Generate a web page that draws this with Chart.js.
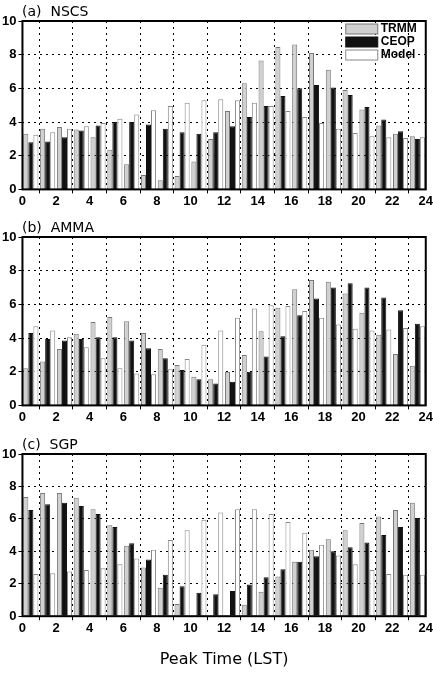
<!DOCTYPE html>
<html>
<head>
<meta charset="utf-8">
<script src="https://cdn.jsdelivr.net/npm/chart.js@4"></script>
<style>
body { margin: 0; background: #fff; }
.p { position: absolute; left: 0; width: 433px; }
</style>
</head>
<body>
<div class="p" style="top:0;height:209px"><canvas id="cA"></canvas></div>
<div class="p" style="top:216px;height:209px"><canvas id="cB"></canvas></div>
<div class="p" style="top:433px;height:240px"><canvas id="cC"></canvas></div>
<script>
const hours = Array.from({length: 24}, (_, i) => i + 0.5);

const nscsTrmm = [3.3,3.6,3.7,3.55,3.1,2.35,1.5,0.85,0.55,0.8,1.65,3.0,4.65,6.3,7.65,8.45,8.6,8.1,7.1,5.9,4.75,3.8,3.3,3.15];
const nscsCeop = [2.8,2.85,3.1,3.5,3.8,4.0,4.0,3.85,3.6,3.4,3.3,3.4,3.75,4.3,4.95,5.55,6.0,6.2,6.05,5.6,4.9,4.15,3.45,3.0];
const nscsModel = [3.25,3.4,3.6,3.75,3.95,4.2,4.45,4.7,4.95,5.15,5.3,5.35,5.3,5.15,4.95,4.65,4.3,3.95,3.6,3.35,3.15,3.1,3.05,3.1];

const ammaTrmm = [2.2,2.6,3.35,4.25,4.95,5.25,5.0,4.3,3.35,2.4,1.7,1.55,2.0,3.0,4.4,5.8,6.9,7.45,7.35,6.65,5.5,4.2,3.05,2.35];
const ammaCeop = [4.3,3.95,3.85,3.95,4.05,4.05,3.85,3.4,2.8,2.1,1.55,1.3,1.4,2.0,2.9,4.1,5.35,6.35,7.0,7.25,7.0,6.4,5.65,4.85];
const ammaModel = [4.7,4.45,4.05,3.45,2.8,2.2,1.9,1.85,2.15,2.75,3.6,4.45,5.2,5.75,5.95,5.9,5.6,5.2,4.8,4.55,4.45,4.5,4.6,4.7];

const sgpTrmm = [7.35,7.6,7.6,7.3,6.6,5.6,4.35,3.0,1.75,0.75,0.05,0,0.05,0.7,1.5,2.45,3.35,4.1,4.75,5.3,5.75,6.15,6.55,7.0];
const sgpCeop = [6.55,6.9,7.0,6.8,6.3,5.5,4.5,3.5,2.55,1.85,1.45,1.35,1.55,1.95,2.4,2.9,3.35,3.7,4.0,4.25,4.55,5.0,5.5,6.05];
const sgpModel = [2.6,2.65,2.75,2.85,2.95,3.2,3.55,4.1,4.7,5.3,5.95,6.4,6.6,6.6,6.3,5.8,5.15,4.4,3.75,3.2,2.85,2.6,2.55,2.55];

const seriesNames = ['TRMM', 'CEOP', 'Model'];
const seriesFill = ['#d0d0d0', '#111111', '#ffffff'];
const seriesEdge = ['#777777', '#111111', '#888888'];

const tickFont = {family: 'Liberation Sans', size: 13, weight: 'bold'};

function makePanel(id, title, vals, showLegend, showXTitle) {
    const panelDeco = {
        id: 'deco',
        afterDraw(chart) {
            const ctx = chart.ctx;
            const a = chart.chartArea;
            ctx.save();
            ctx.fillStyle = '#000';
            ctx.font = '14px "DejaVu Sans"';
            ctx.textBaseline = 'bottom';
            ctx.fillText(title, 22, a.top - 2);
            ctx.strokeStyle = '#000';
            ctx.lineWidth = 2;
            ctx.strokeRect(a.left, a.top, a.right - a.left, a.bottom - a.top);
            if (showLegend) {
                ctx.font = 'bold 12px "Liberation Sans"';
                ctx.textBaseline = 'middle';
                seriesNames.forEach((n, i) => {
                    const y = a.top + 8 + i * 13;
                    const x = a.right - 80;
                    ctx.fillStyle = seriesFill[i];
                    ctx.fillRect(x, y - 5, 32, 10);
                    ctx.strokeStyle = seriesEdge[i];
                    ctx.lineWidth = 1;
                    ctx.strokeRect(x, y - 5, 32, 10);
                    ctx.fillStyle = '#000';
                    ctx.fillText(n, x + 35, y);
                });
            }
            ctx.restore();
        }
    };
    new Chart(document.getElementById(id), {
        type: 'bar',
        data: {
            datasets: vals.map((v, i) => ({
                label: seriesNames[i],
                data: v.map((y, k) => ({x: hours[k], y: y})),
                backgroundColor: seriesFill[i],
                borderColor: seriesEdge[i],
                borderWidth: 1,
                barPercentage: 1,
                categoryPercentage: 0.9
            }))
        },
        options: {
            responsive: true,
            maintainAspectRatio: false,
            animation: false,
            layout: {padding: {top: 21, right: 6, left: 0}},
            plugins: {legend: {display: false}, tooltip: {enabled: false}},
            scales: {
                x: {
                    type: 'linear', min: 0, max: 24, offset: false,
                    ticks: {stepSize: 2, color: '#000', font: tickFont, padding: 0},
                    grid: {color: '#000', lineWidth: 1, tickLength: 4},
                    border: {display: false, dash: [2, 4]},
                    title: {display: showXTitle, text: 'Peak Time (LST)', color: '#000',
                        font: {family: 'DejaVu Sans', size: 16}, padding: {top: 14}}
                },
                y: {
                    min: 0, max: 10,
                    ticks: {stepSize: 2, color: '#000', font: tickFont, padding: 2},
                    grid: {color: '#000', lineWidth: 1, tickLength: 4},
                    border: {display: false, dash: [2, 4]}
                }
            }
        },
        plugins: [panelDeco]
    });
}

makePanel('cA', '(a)  NSCS', [nscsTrmm, nscsCeop, nscsModel], true, false);
makePanel('cB', '(b)  AMMA', [ammaTrmm, ammaCeop, ammaModel], false, false);
makePanel('cC', '(c)  SGP', [sgpTrmm, sgpCeop, sgpModel], false, true);
</script>
</body>
</html>
